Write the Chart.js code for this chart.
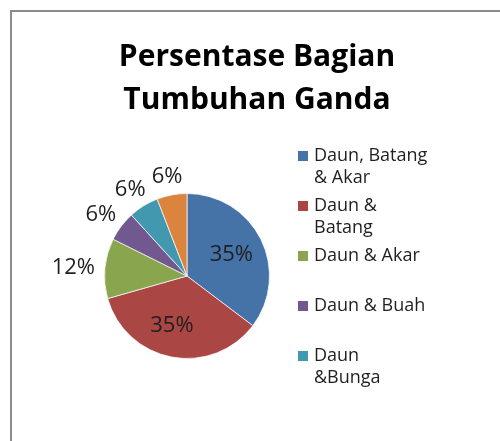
<!DOCTYPE html>
<html>
<head>
<meta charset="utf-8">
<script src="https://cdn.jsdelivr.net/npm/chart.js@4/dist/chart.umd.min.js"></script>
<style>
  html,body{margin:0;padding:0;background:#fff;overflow:hidden}
  .frame{position:absolute;left:10px;top:10px;width:600px;height:600px;border-left:2px solid #8c8c8c;border-top:2px solid #8c8c8c}
  #wrap{position:absolute;left:0;top:0;width:500px;height:441px}
</style>
</head>
<body>
<div class="frame"></div>
<div id="wrap"><canvas id="pie-chart"></canvas></div>
<script>
// chart data
const titleLines = ['Persentase Bagian', 'Tumbuhan Ganda'];
const categories = [
  ['Daun, Batang', '& Akar'],
  ['Daun &', 'Batang'],
  ['Daun & Akar'],
  ['Daun & Buah'],
  ['Daun', '&Bunga'],
  ['Lainnya']
];
const counts = [6, 6, 2, 1, 1, 1];
const colors = ['#4572A7', '#AA4643', '#89A54E', '#71588F', '#4198AF', '#DB843D'];
const legendCount = 5; // the last entry is cut off in the original legend

const FONT = "'Open Sans', 'Noto Sans', sans-serif";

// title, legend and percent labels drawn on the canvas
const excelLook = {
  id: 'excelLook',
  afterDatasetsDraw(chart) {
    const ctx = chart.ctx;
    const meta = chart.getDatasetMeta(0);
    const total = counts.reduce((a, b) => a + b, 0);
    ctx.save();
    ctx.fillStyle = '#000';
    ctx.textAlign = 'center';
    ctx.textBaseline = 'middle';
    ctx.font = `bold 30px ${FONT}`;
    titleLines.forEach((t, i) => ctx.fillText(t, 257, 57 + i * 43));

    // percent labels
    ctx.font = `22px ${FONT}`;
    ctx.fillStyle = '#1f1f1f';
    meta.data.forEach((arc, i) => {
      const share = counts[i] / total;
      const txt = Math.round(share * 100) + '%';
      const mid = (arc.startAngle + arc.endAngle) / 2;
      const dx = Math.cos(mid), dy = Math.sin(mid);
      let x, y;
      if (share >= 0.2) {
        x = arc.x + dx * arc.outerRadius * 0.6 - (i === 1 ? 6 : 0);
        y = arc.y + dy * arc.outerRadius * 0.6;
      } else {
        const w = ctx.measureText(txt).width, h = 20;
        const r = arc.outerRadius + 10;
        x = arc.x + dx * r + dx * w / 2;
        y = arc.y + dy * r + dy * h / 2;
      }
      ctx.fillText(txt, x, y + 1);
    });

    // legend
    ctx.font = `18px ${FONT}`;
    ctx.textAlign = 'left';
    for (let i = 0; i < legendCount; i++) {
      const y0 = 156 + i * 50;
      ctx.fillStyle = colors[i];
      ctx.fillRect(298, y0 - 5, 10, 10);
      ctx.fillStyle = '#1f1f1f';
      categories[i].forEach((line, j) => ctx.fillText(line, 314, y0 + j * 22));
    }
    ctx.restore();
  }
};

new Chart(document.getElementById('pie-chart'), {
  type: 'pie',
  data: {
    labels: categories,
    datasets: [{
      data: counts,
      backgroundColor: colors,
      borderColor: 'rgba(255,255,255,0.7)',
      borderWidth: 1,
    }],
  },
  options: {
    responsive: true, maintainAspectRatio: false, animation: false,
    layout: { padding: { left: 104, right: 230, top: 193, bottom: 82 } },
    plugins: {
      legend: { display: false },
      title: { display: false },
      tooltip: { enabled: false },
    },
  },
  plugins: [excelLook],
});
</script>
</body>
</html>
